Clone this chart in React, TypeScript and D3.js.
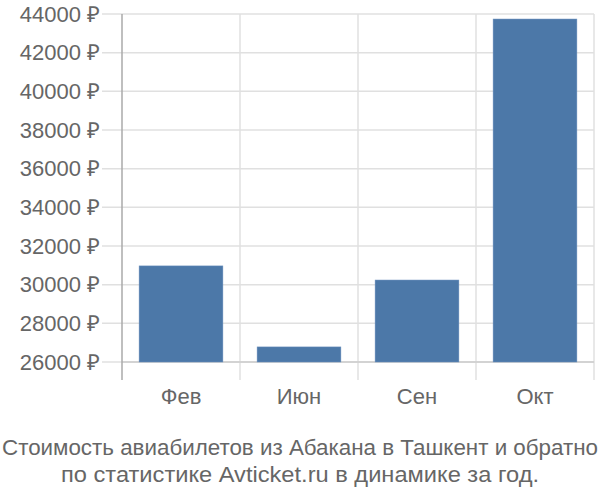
import React from "react";
import * as d3 from "d3";

const categories = ["Фев", "Июн", "Сен", "Окт"];
const values = [30970, 26780, 30240, 43740];
const yTicks = [26000, 28000, 30000, 32000, 34000, 36000, 38000, 40000, 42000, 44000];
const titleLines = [
  "Стоимость авиабилетов из Абакана в Ташкент и обратно",
  "по статистике Avticket.ru в динамике за год.",
];

export default function App() {
  const W = 600, H = 500;
  const left = 122, right = 594, top = 14, bottom = 362;
  const x = d3.scaleBand<string>().domain(categories).range([left, right]).paddingInner(0.29).paddingOuter(0.145);
  const xb = d3.scaleBand<string>().domain(categories).range([left, right]);
  const y = d3.scaleLinear().domain([26000, 44000]).range([bottom, top]);
  const font = "'Liberation Sans', Arial, sans-serif";
  return (
    <svg width={W} height={H} style={{ position: "absolute", left: 0, top: 0 }} fontFamily={font}>
      <rect width={W} height={H} fill="#fff" />
      {yTicks.map((t) => (
        <g key={t}>
          <line x1={102} x2={right} y1={y(t)} y2={y(t)} stroke="#e0e0e0" strokeWidth={1.5} />
          <text x={100} y={y(t)} dy="0.35em" textAnchor="end" fontSize={22} fill="#666">
            {t} ₽
          </text>
        </g>
      ))}
      {categories.map((c) => (
        <line key={c} x1={xb(c)! + xb.bandwidth()} x2={xb(c)! + xb.bandwidth()} y1={top} y2={380} stroke="#e0e0e0" strokeWidth={1.5} />
      ))}
      <line x1={left} x2={right} y1={bottom} y2={bottom} stroke="#ccc" strokeWidth={1.5} />
      <line x1={left} x2={left} y1={top} y2={380} stroke="#aaa" strokeWidth={1.5} />
      {categories.map((c, i) => (
        <rect key={c} x={x(c)} y={y(values[i])} width={x.bandwidth()} height={bottom - y(values[i])} fill="#4c78a8" stroke="#6a8fbd" strokeWidth={0.5} />
      ))}
      {categories.map((c) => (
        <text key={c} x={xb(c)! + xb.bandwidth() / 2} y={404} textAnchor="middle" fontSize={22} fill="#666">
          {c}
        </text>
      ))}
      {titleLines.map((l, i) => (
        <text key={i} x={300} y={455 + i * 27} textAnchor="middle" fontSize={22} fill="#666" textLength={i === 0 ? 596 : 478} lengthAdjust="spacingAndGlyphs">
          {l}
        </text>
      ))}
    </svg>
  );
}
